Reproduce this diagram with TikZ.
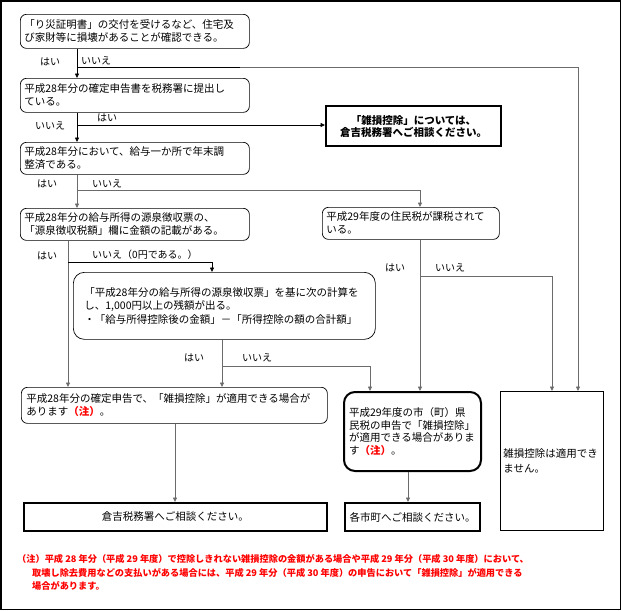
\documentclass[tikz,border=0pt]{standalone}
\usepackage{fontspec}
\setmainfont{Noto Sans CJK JP}
\usetikzlibrary{arrows.meta}
\definecolor{conn}{rgb}{0.42,0.42,0.42}
\definecolor{notered}{rgb}{1,0,0}
\begin{document}
\begin{tikzpicture}[x=1pt,y=-1pt,
  txt/.style={font=\fontsize{10.5}{13}\selectfont},
  rbox/.style={txt, draw, rounded corners=6pt, line width=0.7pt, inner xsep=4pt, inner ysep=0pt, align=left, anchor=north west},
  bigrbox/.style={rbox, rounded corners=11pt},
  thickbox/.style={txt, draw, line width=2pt, inner xsep=3pt, inner ysep=0pt, anchor=north west},
  thinbox/.style={txt, draw, line width=0.7pt, inner xsep=3pt, inner ysep=0pt, align=left, anchor=north west},
  lab/.style={font=\fontsize{10}{12}\selectfont, inner sep=0pt, anchor=west},
  conline/.style={draw=conn, line width=0.8pt},
  arr/.style={conline, -{Triangle[length=4.5pt,width=4pt]}},
  chu/.style={text=notered, font=\bfseries}
]
\useasboundingbox (0,0) rectangle (622,611);
\draw[line width=1.5pt] (1,1) rectangle (620.5,609.5);

% boxes
\node[rbox, text width=221pt, minimum height=34pt] (b1) at (20,14)
  {「り災証明書」の交付を受けるなど、住宅及\\び家財等に損壊があることが確認できる。};
\node[rbox, text width=221pt, minimum height=34pt] (b2) at (20,78)
  {平成28年分の確定申告書を税務署に提出し\\ている。};
\node[rbox, text width=221pt, minimum height=32pt] (b3) at (20,142)
  {平成28年分において、給与一か所で年末調\\整済である。};
\node[rbox, text width=221pt, minimum height=32pt] (b4) at (20,208)
  {平成28年分の給与所得の源泉徴収票の、\\「源泉徴収税額」欄に金額の記載がある。};
\node[thickbox, text width=169pt, minimum height=40pt, align=center, font=\fontsize{10.5}{12}\selectfont\bfseries] (bz) at (325,105)
  {「雑損控除」については、\\倉吉税務署へご相談ください。};
\node[rbox, text width=169pt, minimum height=32pt] (b5) at (322,207)
  {平成29年度の住民税が課税されて\\いる。};
\node[bigrbox, inner xsep=11pt, text width=280pt, minimum height=67pt] (b7) at (73,272)
  {「平成28年分の給与所得の源泉徴収票」を基に次の計算を\\し、1,000円以上の残額が出る。\\[1pt]・「給与所得控除後の金額」－「所得控除の額の合計額」};
\node[rbox, inner xsep=5pt, text width=296pt, minimum height=36pt] (b6) at (21,387)
  {平成28年分の確定申告で、「雑損控除」が適用できる場合が\\あります{\color{notered}\bfseries（注）}。};
\node[bigrbox, line width=2pt, inner xsep=5pt, text width=127pt, minimum height=79pt, font=\fontsize{10.5}{12.5}\selectfont] (b8) at (343,391)
  {平成29年度の市（町）県\\民税の申告で「雑損控除」\\が適用できる場合がありま\\す{\color{notered}\bfseries（注）}。};
\node[thinbox, text width=97pt, minimum height=139pt, font=\fontsize{10.5}{15}\selectfont] (b9) at (500,391)
  {雑損控除は適用でき\\ません。};
\node[thickbox, text width=297pt, minimum height=28pt, align=center] (b10) at (23,502)
  {倉吉税務署へご相談ください。};
\node[thickbox, text width=129pt, minimum height=28pt, align=center] (b11) at (344,502)
  {各市町へご相談ください。};

% junction coordinates
\coordinate (j1) at (77,67);
\coordinate (j2) at (77,125);
\coordinate (j3) at (77,190);
\coordinate (j4) at (68,262);
\coordinate (j7) at (222,366);
\coordinate (j5) at (420,276);
\coordinate (in9a) at (552,391);
\coordinate (in9b) at (578,391);
\coordinate (in8a) at (370,391);

% connectors
\draw[arr, draw=black] (b1.south -| j1) -- (b2.north -| j1);
\draw[conline, draw=black] (j1) -- (240,67);
\draw[arr] (240,67) -| (in9b);
\draw[arr, draw=black] (b2.south -| j2) -- (b3.north -| j2);
\draw[arr, draw=black] (j2) -- (bz.west |- j2);
\draw[arr] (b3.south -| j3) -- (b4.north -| j3);
\draw[arr] (j3) -| (b5.north -| j5);
\draw[arr] (b4.south -| j4) -- (b6.north -| j4);
\draw[arr, draw=black] (j4) -| (b7.north -| 212,0);
\draw[arr] (b7.south -| j7) -- (b6.north -| j7);
\draw[arr] (j7) -| (in8a);
\draw[arr] (b5.south -| j5) -- (b8.north -| j5);
\draw[arr] (j5) -| (in9a);
\draw[arr] (b6.south -| 175,0) -- (b10.north -| 175,0);
\draw[arr] (b8.south -| 408,0) -- (b11.north -| 408,0);

% labels
\node[lab] (l1y) at (40,62) {はい};
\node[lab] (l1n) at (81,61) {いいえ};
\node[lab] (l2n) at (35,126) {いいえ};
\node[lab] (l2y) at (97,118) {はい};
\node[lab] (l3y) at (37,184) {はい};
\node[lab] (l3n) at (92,184) {いいえ};
\node[lab] (l4y) at (37,256) {はい};
\node[lab] (l4n) at (92,255) {いいえ（0円である。）};
\node[lab] (l7y) at (184,358) {はい};
\node[lab] (l7n) at (242,358) {いいえ};
\node[lab] (l5y) at (385,268) {はい};
\node[lab] (l5n) at (435,268) {いいえ};

% footnote
\node[anchor=north west, inner sep=0pt, align=left, text=notered,
      font=\fontsize{9.2}{13.8}\selectfont\bfseries] (note) at (17,554)
  {（注）平成 28 年分（平成 29 年度）で控除しきれない雑損控除の金額がある場合や平成 29 年分（平成 30 年度）において、\\
   \hspace*{15pt}取壊し除去費用などの支払いがある場合には、平成 29 年分（平成 30 年度）の申告において「雑損控除」が適用できる\\
   \hspace*{15pt}場合があります。};
\end{tikzpicture}
\end{document}
